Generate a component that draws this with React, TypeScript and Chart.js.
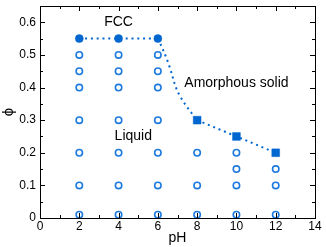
import React, { useEffect, useRef } from 'react';
import { Chart, registerables } from 'chart.js';

Chart.register(...registerables);

// ---- data ----
const liquidPH = [2, 2, 2, 2, 2, 2, 2, 4, 4, 4, 4, 4, 4, 4, 6, 6, 6, 6, 6, 6, 6, 8, 8, 8, 10, 10, 10, 10, 12, 12, 12];
const liquidPhi = [0.01, 0.1, 0.2, 0.3, 0.4, 0.45, 0.5, 0.01, 0.1, 0.2, 0.3, 0.4, 0.45, 0.5, 0.01, 0.1, 0.2, 0.3, 0.4, 0.45, 0.5, 0.01, 0.1, 0.2, 0.01, 0.1, 0.15, 0.2, 0.01, 0.1, 0.15];
const fccPH = [2, 4, 6];
const fccPhi = [0.55, 0.55, 0.55];
const amorphPH = [8, 10, 12];
const amorphPhi = [0.3, 0.25, 0.2];

const xMajorTicks = [0, 2, 4, 6, 8, 10, 12, 14];
const xMinorTicks = [1, 3, 5, 7, 9, 11, 13];
const yMajorTicks = [0, 0.1, 0.2, 0.3, 0.4, 0.5, 0.6];
const yMinorTicks = [0.05, 0.15, 0.25, 0.35, 0.45, 0.55];

const regionLabels = ['FCC', 'Amorphous solid', 'Liquid'];
const regionLabelPH = [4, 10, 4.75];
const regionLabelPhi = [0.6, 0.415, 0.25];

const FILL_BLUE = 'rgb(0,102,208)';
const OPEN_BLUE = 'rgb(30,122,222)';
const FONT = "'Liberation Sans', Arial, Helvetica, sans-serif";

const pts = (xs: number[], ys: number[]) => xs.map((x, i) => ({ x, y: ys[i] }));

const framePlugin = {
  id: 'frameTicks',
  afterDatasetsDraw(chart: any) {
    const { ctx, chartArea: a, scales } = chart;
    const xs = scales.x, ys = scales.y;
    ctx.save();
    ctx.strokeStyle = '#000';
    ctx.lineWidth = 1;
    ctx.beginPath();
    const major = 5, minor = 3;
    const vt = (v: number, len: number) => {
      const px = Math.round(xs.getPixelForValue(v)) + 0.5;
      ctx.moveTo(px, a.bottom); ctx.lineTo(px, a.bottom - len);
      ctx.moveTo(px, a.top); ctx.lineTo(px, a.top + len);
    };
    const ht = (v: number, len: number) => {
      const py = Math.round(ys.getPixelForValue(v)) + 0.5;
      ctx.moveTo(a.left, py); ctx.lineTo(a.left + len, py);
      ctx.moveTo(a.right, py); ctx.lineTo(a.right - len, py);
    };
    xMajorTicks.forEach((v) => vt(v, major));
    xMinorTicks.forEach((v) => vt(v, minor));
    yMajorTicks.forEach((v) => ht(v, major));
    yMinorTicks.forEach((v) => ht(v, minor));
    ctx.stroke();
    ctx.strokeRect(Math.round(a.left) + 0.5, Math.round(a.top) + 0.5, Math.round(a.right - a.left), Math.round(a.bottom - a.top));
    ctx.fillStyle = '#000';
    ctx.font = `14px ${FONT}`;
    ctx.textAlign = 'center';
    ctx.textBaseline = 'middle';
    regionLabels.forEach((t, i) => {
      ctx.fillText(t, xs.getPixelForValue(regionLabelPH[i]), ys.getPixelForValue(regionLabelPhi[i]));
    });
    ctx.restore();
  },
};

export default function App() {
  const ref = useRef<HTMLCanvasElement>(null);
  useEffect(() => {
    if (!ref.current) return;
    const boundary = pts([fccPH[fccPH.length - 1], ...amorphPH], [fccPhi[fccPhi.length - 1], ...amorphPhi]);
    const chart = new Chart(ref.current, {
      type: 'scatter',
      data: {
        datasets: [
          {
            label: 'Liquid',
            data: pts(liquidPH, liquidPhi),
            pointStyle: 'circle',
            pointRadius: 3.2,
            pointBorderWidth: 1.6,
            pointBorderColor: OPEN_BLUE,
            pointBackgroundColor: 'rgba(255,255,255,0)',
            showLine: false,
          },
          {
            label: 'FCC',
            data: pts(fccPH, fccPhi),
            showLine: true,
            borderColor: FILL_BLUE,
            borderWidth: 2,
            borderDash: [2, 3.8],
            pointStyle: 'circle',
            pointRadius: 4,
            pointBorderWidth: 0.5,
            pointBorderColor: FILL_BLUE,
            pointBackgroundColor: FILL_BLUE,
          },
          {
            label: 'Amorphous',
            data: pts(amorphPH, amorphPhi),
            showLine: true,
            borderColor: FILL_BLUE,
            borderWidth: 2,
            borderDash: [2, 3.8],
            pointStyle: 'rect',
            pointRadius: 5.5,
            pointBorderWidth: 0.5,
            pointBorderColor: FILL_BLUE,
            pointBackgroundColor: FILL_BLUE,
          },
          {
            label: 'Boundary',
            data: boundary,
            showLine: true,
            tension: 0.6,
            borderColor: FILL_BLUE,
            borderWidth: 2,
            borderDash: [2, 3.8],
            pointRadius: 0,
            segment: {
              borderColor: (c: any) => (c.p0DataIndex === 0 ? FILL_BLUE : 'rgba(0,0,0,0)'),
            },
          },
        ],
      },
      options: {
        responsive: false,
        animation: false,
        devicePixelRatio: 1,
        layout: { padding: { left: 0, right: 11, top: 1, bottom: 0 } },
        plugins: { legend: { display: false }, tooltip: { enabled: false } },
        scales: {
          x: {
            type: 'linear',
            min: 0,
            max: 14,
            grid: { display: false, drawTicks: false, tickLength: 0 },
            border: { display: false },
            ticks: { color: '#000', font: { size: 12, family: FONT }, padding: 1, maxRotation: 0, autoSkip: false },
            afterBuildTicks: (s: any) => { s.ticks = xMajorTicks.map((v) => ({ value: v })); },
            afterFit: (s: any) => { s.height = 29; s.paddingLeft = 0; s.paddingRight = 0; },
            title: { display: true, text: 'pH', color: '#000', font: { size: 14, family: FONT }, padding: { top: 0, bottom: 0 } },
          },
          y: {
            type: 'linear',
            min: 0,
            max: 0.65,
            grid: { display: false, drawTicks: false, tickLength: 0 },
            border: { display: false },
            ticks: { color: '#000', font: { size: 12, family: FONT }, padding: 4, autoSkip: false },
            afterBuildTicks: (s: any) => { s.ticks = yMajorTicks.map((v) => ({ value: v })); },
            afterFit: (s: any) => { s.width = 40; s.paddingTop = 0; s.paddingBottom = 0; },
            title: { display: true, text: 'ϕ', color: '#000', font: { size: 15, family: FONT }, padding: { top: 0, bottom: 0 } },
          },
        },
      },
      plugins: [framePlugin],
    } as any);
    return () => chart.destroy();
  }, []);
  return (
    <div style={{ position: 'absolute', left: 0, top: 0, width: 326, height: 247, background: '#fff' }}>
      <canvas ref={ref} width={326} height={247} style={{ display: 'block' }} />
    </div>
  );
}
